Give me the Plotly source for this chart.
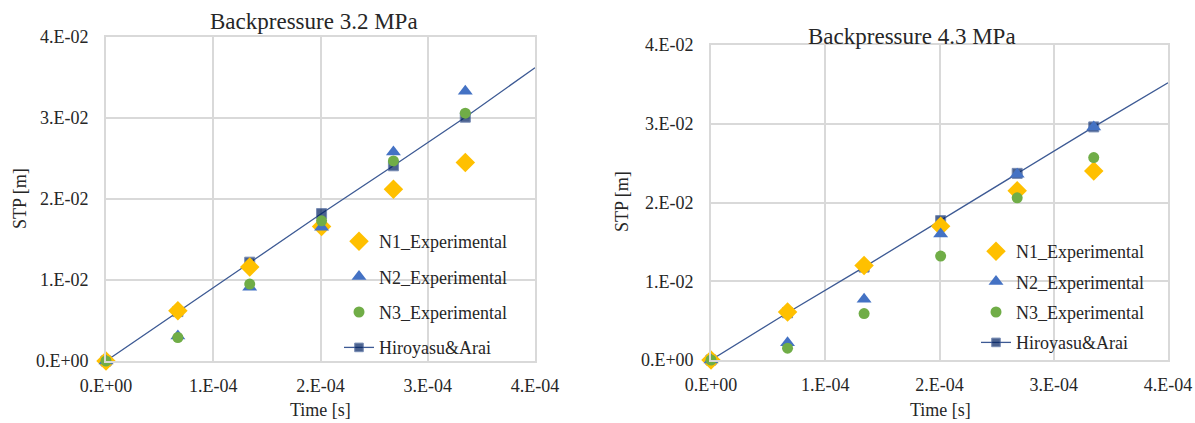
import plotly.graph_objects as go

W, H = 1195, 423

# ---------------- data ----------------
time_s = [0.0, 6.7e-5, 1.34e-4, 2.01e-4, 2.68e-4, 3.35e-4]

# Backpressure 3.2 MPa
bp32_n1 = [0.0, 0.0062, 0.0116, 0.0166, 0.0212, 0.0245]
bp32_n2 = [0.0, 0.0031, 0.0091, 0.0165, 0.0258, 0.0333]
bp32_n3 = [0.0, 0.0029, 0.0095, 0.0173, 0.0247, 0.0306]
bp32_hiro = [0.0, 0.0061, 0.0122, 0.0182, 0.0241, 0.0301]
bp32_hiro_end = 0.0362  # line value at 4.E-04

# Backpressure 4.3 MPa
bp43_n1 = [0.0, 0.0061, 0.0120, 0.0170, 0.0215, 0.0240]
bp43_n2 = [0.0, 0.0022, 0.0077, 0.0160, 0.0236, 0.0296]
bp43_n3 = [0.0, 0.0015, 0.0059, 0.0132, 0.0206, 0.0257]
bp43_hiro = [0.0, 0.0060, 0.0118, 0.0177, 0.0237, 0.0296]
bp43_hiro_end = 0.0352

x_end = 4e-4
x_tickvals = [0, 1e-4, 2e-4, 3e-4, 4e-4]
x_ticktext = ["0.E+00", "1.E-04", "2.E-04", "3.E-04", "4.E-04"]
y_tickvals = [0, 0.01, 0.02, 0.03, 0.04]
y_ticktext = ["0.E+00", "1.E-02", "2.E-02", "3.E-02", "4.E-02"]

titles = ["Backpressure 3.2 MPa", "Backpressure 4.3 MPa"]
names = ["N1_Experimental", "N2_Experimental", "N3_Experimental", "Hiroyasu&Arai"]

# ---------------- style ----------------
FONT = "Liberation Serif, Times New Roman, DejaVu Serif, serif"
C_N1, C_N2, C_N3 = "#FFC000", "#4472C4", "#70AD47"
C_HIRO_M, C_HIRO_L = "#002060", "#3D5A94"
GRID = "#D9D9D9"
TXT = "#262626"


def px_x(p):
    return p / W


def px_y(p):
    return 1 - p / H


fig = go.Figure()

panels = [
    dict(n1=bp32_n1, n2=bp32_n2, n3=bp32_n3, hiro=bp32_hiro, hend=bp32_hiro_end,
         xa="x", ya="y", leg="legend"),
    dict(n1=bp43_n1, n2=bp43_n2, n3=bp43_n3, hiro=bp43_hiro, hend=bp43_hiro_end,
         xa="x2", ya="y2", leg="legend2"),
]

for p in panels:
    # Hiroyasu & Arai (drawn first, listed last in legend)
    fig.add_trace(go.Scatter(
        x=time_s + [x_end], y=p["hiro"] + [p["hend"]],
        mode="lines+markers", name=names[3],
        line=dict(color=C_HIRO_L, width=1.3),
        marker=dict(symbol="square", color=C_HIRO_M,
                    size=[10] * len(time_s) + [0]),
        xaxis=p["xa"], yaxis=p["ya"], legend=p["leg"],
        legendrank=4, legendgroup="g4" + p["leg"], cliponaxis=False))
    fig.add_trace(go.Scatter(
        x=time_s, y=p["n1"], mode="markers", name=names[0],
        marker=dict(symbol="diamond", color=C_N1, size=15),
        xaxis=p["xa"], yaxis=p["ya"], legend=p["leg"],
        legendrank=1, legendgroup="g1" + p["leg"], cliponaxis=False))
    fig.add_trace(go.Scatter(
        x=time_s, y=p["n2"], mode="markers", name=names[1],
        marker=dict(symbol="triangle-up", color=C_N2, size=13),
        xaxis=p["xa"], yaxis=p["ya"], legend=p["leg"],
        legendrank=2, legendgroup="g2" + p["leg"], cliponaxis=False))
    fig.add_trace(go.Scatter(
        x=time_s, y=p["n3"], mode="markers", name=names[2],
        marker=dict(symbol="circle", color=C_N3, size=11),
        xaxis=p["xa"], yaxis=p["ya"], legend=p["leg"],
        legendrank=3, legendgroup="g3" + p["leg"], cliponaxis=False))

axis_common = dict(
    showgrid=True, gridcolor=GRID, gridwidth=1.6,
    showline=True, linecolor=GRID, linewidth=1.6, mirror=True,
    zeroline=False, ticks="", automargin=False,
    tickfont=dict(family=FONT, size=18, color=TXT),
)

# plot-area pixel boxes
left_box = dict(x0=106, x1=535, y0=37, y1=361)
right_box = dict(x0=711, x1=1168, y0=45, y1=360)

fig.update_layout(
    width=W, height=H, autosize=False,
    margin=dict(l=0, r=0, t=0, b=0, pad=0),
    paper_bgcolor="white", plot_bgcolor="white",
    font=dict(family=FONT, color=TXT),
    xaxis=dict(domain=[px_x(left_box["x0"]), px_x(left_box["x1"])], anchor="y",
               range=[0, x_end], tickvals=x_tickvals, ticktext=x_ticktext,
               ticklabelstandoff=8, **axis_common),
    yaxis=dict(domain=[px_y(left_box["y1"]), px_y(left_box["y0"])], anchor="x",
               range=[0, 0.04], tickvals=y_tickvals, ticktext=y_ticktext,
               ticklabelstandoff=12, **axis_common),
    xaxis2=dict(domain=[px_x(right_box["x0"]), px_x(right_box["x1"])], anchor="y2",
                range=[0, x_end], tickvals=x_tickvals, ticktext=x_ticktext,
                ticklabelstandoff=8, **axis_common),
    yaxis2=dict(domain=[px_y(right_box["y1"]), px_y(right_box["y0"])], anchor="x2",
                range=[0, 0.04], tickvals=y_tickvals, ticktext=y_ticktext,
                ticklabelstandoff=12, **axis_common),
    legend=dict(x=px_x(339), y=px_y(223), xanchor="left", yanchor="top",
                bgcolor="rgba(0,0,0,0)", traceorder="grouped", tracegroupgap=9,
                font=dict(family=FONT, size=18, color=TXT)),
    legend2=dict(x=px_x(976), y=px_y(233), xanchor="left", yanchor="top",
                 bgcolor="rgba(0,0,0,0)", traceorder="grouped", tracegroupgap=4,
                 font=dict(family=FONT, size=18, color=TXT)),
    showlegend=True,
)

annots = [
    dict(text=titles[0], x=px_x(314), y=px_y(22), font=dict(size=23)),
    dict(text=titles[1], x=px_x(912), y=px_y(36), font=dict(size=23)),
    dict(text="Time [s]", x=px_x(320), y=px_y(410), font=dict(size=18)),
    dict(text="Time [s]", x=px_x(940), y=px_y(410), font=dict(size=18)),
    dict(text="STP [m]", x=px_x(20), y=px_y(199), font=dict(size=18), textangle=-90),
    dict(text="STP [m]", x=px_x(622), y=px_y(202), font=dict(size=18), textangle=-90),
]
for a in annots:
    a["font"].update(family=FONT, color=TXT)
    fig.add_annotation(xref="paper", yref="paper", xanchor="center", yanchor="middle",
                       showarrow=False, **a)

fig.write_html("out.html", config={"displayModeBar": False},
               post_script="document.body.style.margin='0';")
